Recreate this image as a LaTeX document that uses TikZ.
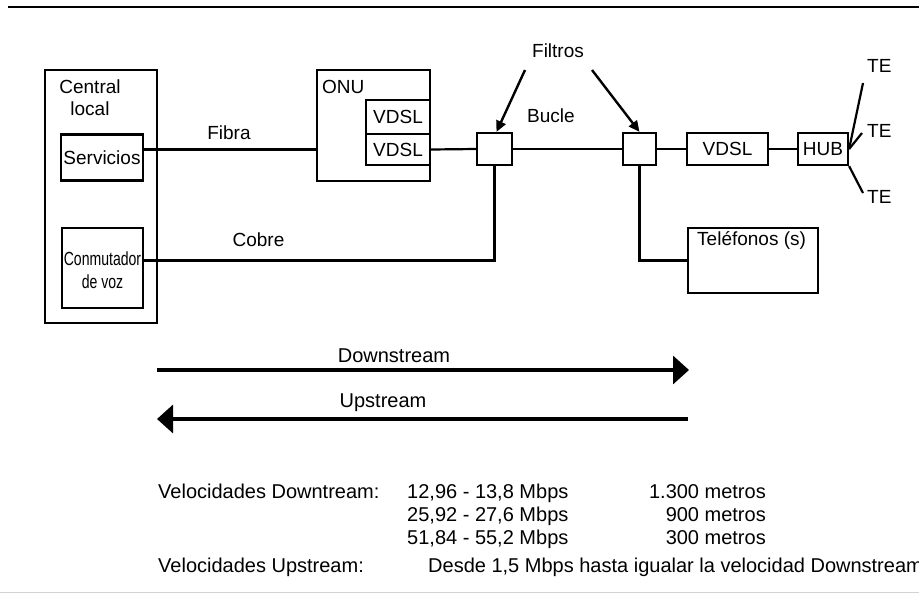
\documentclass[tikz,border=0pt]{standalone}
\usepackage{fontspec}
\setmainfont{Liberation Sans}
\newfontfamily\condfont[FakeStretch=0.74]{Liberation Sans}
\usetikzlibrary{arrows.meta,calc}
\begin{document}
\begin{tikzpicture}[x=1pt,y=-1pt,
  box/.style={draw,line width=2.2pt,rectangle,inner sep=0pt},
  wire/.style={line width=2.2pt},
  lbl/.style={inner sep=0pt,font=\fontsize{19}{22}\selectfont},
  big/.style={inner sep=0pt,font=\fontsize{20}{23}\selectfont},
  flow/.style={line width=3.4pt,-{Triangle[length=16pt,width=28pt]}},
  pointer/.style={line width=2.4pt,-{Triangle[length=11pt,width=10pt]}}]
\fill[white] (0,0) rectangle (919,603);
\useasboundingbox (0,0) rectangle (919,603);
% rules
\draw[line width=2.2pt] (8,7) -- (919,7);
\draw[gray!35,line width=1pt] (0,592) -- (919,592);
% central local
\node[box,minimum width=112pt,minimum height=253pt] (cl) at (101,196.5) {};
\node[lbl,anchor=base] (tc) at (90,93) {Central};
\node[lbl,anchor=base] (tl) at (90,115) {local};
\node[box,minimum width=82pt,minimum height=46pt,lbl] (serv) at (102,157.5) {Servicios};
\node[box,minimum width=81pt,minimum height=80pt] (conm) at (102.5,268) {};
\node[inner sep=0pt,align=center,font=\condfont\fontsize{19}{23}\selectfont] (tconm) at (102.5,270) {Conmutador\\de voz};
% ONU
\node[box,minimum width=113pt,minimum height=111pt] (onu) at (373.5,125.5) {};
\node[lbl,anchor=base west] (tonu) at (322,93) {ONU};
\node[box,minimum width=64pt,minimum height=34pt,lbl] (vd1) at (398,117) {VDSL};
\node[box,minimum width=64pt,minimum height=31pt,lbl] (vd2) at (398,149.5) {VDSL};
% filters and chain
\node[box,minimum width=35pt,minimum height=32pt] (f1) at (494.5,149) {};
\node[box,minimum width=33pt,minimum height=32pt] (f2) at (639.5,149) {};
\node[box,minimum width=81pt,minimum height=32pt,lbl] (vdsl) at (727.5,149) {VDSL};
\node[box,minimum width=50pt,minimum height=32pt,lbl] (hub) at (823,149) {HUB};
\node[box,minimum width=130pt,minimum height=65pt] (tel) at (753,260.5) {};
\node[lbl,anchor=base west] (ttel) at (697,245) {Teléfonos (s)};
% wires
\draw[wire] (serv.east |- vd2.west) -- (onu.west |- vd2.west);
\draw[wire] (vd2.east) -- (f1.west);
\draw[wire] (f1.east) -- (f2.west);
\draw[wire] (f2.east) -- (vdsl.west);
\draw[wire] (vdsl.east) -- (hub.west);
\draw[wire] (conm.east |- tel.west) -- (f1.south |- tel.west) -- (f1.south);
\draw[wire] (f2.south) -- (f2.south |- tel.west) -- (tel.west);
% labels
\node[lbl,anchor=base] (tfib) at (229,139) {Fibra};
\node[lbl,anchor=base] (tcob) at (258.5,246) {Cobre};
\node[lbl,anchor=base] (tfil) at (558,57) {Filtros};
\node[lbl,anchor=base] (tbuc) at (551,122) {Bucle};
% filter pointers
\coordinate (p1) at (525,70);
\coordinate (p2) at (592,70);
\draw[pointer] (p1) -- ($(f1.north)+(2,0)$);
\draw[pointer] (p2) -- (f2.north);
% TE fan
\coordinate (te1) at (863,83);
\coordinate (te2) at (862,133);
\coordinate (te3) at (863,193);
\draw[wire] (hub.east) -- (te1);
\draw[wire] (hub.east) -- (te2);
\draw[wire] (hub.south east) -- (te3);
\node[lbl,anchor=base west] (tte1) at (867,72) {TE};
\node[lbl,anchor=base west] (tte2) at (867,137) {TE};
\node[lbl,anchor=base west] (tte3) at (867,203) {TE};
% flows
\coordinate (ds1) at (157,370);
\coordinate (ds2) at (689,370);
\coordinate (us1) at (688,419);
\coordinate (us2) at (157,419);
\draw[flow] (ds1) -- (ds2);
\draw[flow] (us1) -- (us2);
\node[big,anchor=base] (tds) at (394,362) {Downstream};
\node[big,anchor=base] (tus) at (383,407) {Upstream};
% speeds
\node[big,anchor=base west] (v1) at (158,498) {Velocidades Downtream:};
\node[big,anchor=base west] (n1) at (407,498) {12,96 - 13,8 Mbps};
\node[big,anchor=base west] (n2) at (407,521) {25,92 - 27,6 Mbps};
\node[big,anchor=base west] (n3) at (407,544) {51,84 - 55,2 Mbps};
\node[big,anchor=base east] (m1) at (766,498) {1.300 metros};
\node[big,anchor=base east] (m2) at (766,521) {900 metros};
\node[big,anchor=base east] (m3) at (766,544) {300 metros};
\node[big,anchor=base west] (v2) at (158,572) {Velocidades Upstream:};
\node[big,anchor=base west] (d1) at (428,572) {Desde 1,5 Mbps hasta igualar la velocidad Downstream};
\end{tikzpicture}
\end{document}
